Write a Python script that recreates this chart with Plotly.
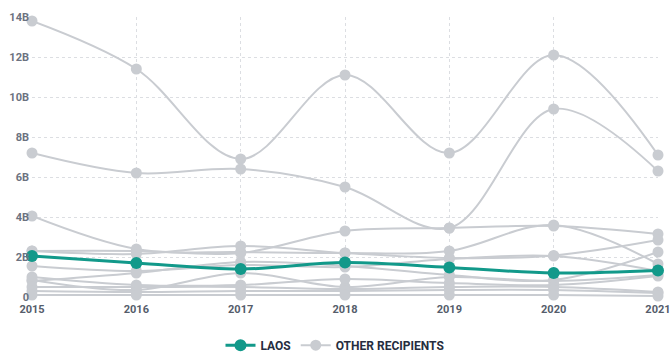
import plotly.graph_objects as go

years = [2015, 2016, 2017, 2018, 2019, 2020, 2021]

# Values in billions
laos = [2.05, 1.7, 1.4, 1.72, 1.48, 1.2, 1.32]

other_recipients = [
    [13.8, 11.4, 6.9, 11.1, 7.2, 12.1, 7.1],
    [7.2, 6.2, 6.4, 5.5, 3.45, 9.4, 6.3],
    [4.05, 2.4, 2.25, 2.2, 2.3, 3.6, 1.65],
    [2.3, 2.3, 2.2, 3.3, 3.45, 3.55, 3.15],
    [2.3, 2.15, 2.55, 2.2, 1.95, 2.08, 2.85],
    [1.55, 1.3, 1.6, 1.5, 1.9, 2.05, 1.3],
    [0.8, 1.2, 1.75, 1.55, 1.1, 0.85, 2.25],
    [0.85, 0.35, 1.2, 0.5, 1.0, 0.8, 1.1],
    [1.0, 0.6, 0.6, 0.9, 0.7, 0.6, 1.05],
    [0.5, 0.5, 0.5, 0.4, 0.5, 0.5, 0.25],
    [0.3, 0.25, 0.3, 0.3, 0.35, 0.35, 0.2],
    [0.1, 0.1, 0.1, 0.1, 0.1, 0.1, 0.05],
]

y_ticks = [0, 2, 4, 6, 8, 10, 12, 14]
y_tick_labels = ["0", "2B", "4B", "6B", "8B", "10B", "12B", "14B"]

GRAY = "#c9ccd1"
TEAL = "#12998a"
FONT = "Liberation Sans Narrow, Roboto, Arial"

fig = go.Figure()

for i, series in enumerate(other_recipients):
    fig.add_trace(go.Scatter(
        x=years, y=series,
        mode="lines+markers",
        name="OTHER RECIPIENTS",
        legendgroup="other",
        showlegend=(i == 0),
        legendrank=2,
        line=dict(color=GRAY, width=2, shape="spline"),
        marker=dict(color=GRAY, size=11),
        cliponaxis=False,
        hoverinfo="skip",
    ))

fig.add_trace(go.Scatter(
    x=years, y=laos,
    mode="lines+markers",
    name="LAOS",
    legendrank=1,
    line=dict(color=TEAL, width=3, shape="spline"),
    marker=dict(color=TEAL, size=12),
    cliponaxis=False,
))

fig.update_layout(
    width=670, height=353,
    margin=dict(l=32, r=12, t=17, b=56, autoexpand=False),
    paper_bgcolor="white",
    plot_bgcolor="white",
    font=dict(family=FONT, size=11, color="#5c6473"),
    legend=dict(
        orientation="h",
        x=0.5, xanchor="center", xref="container",
        y=0.022, yanchor="middle", yref="container",
        font=dict(family=FONT, size=12, color="#262d40", weight="bold"),
        itemwidth=30,
    ),
    xaxis=dict(
        range=[2014.9999, 2021.0001],
        tickvals=years,
        ticktext=[str(y) for y in years],
        ticklabeloverflow="allow",
        ticklabelstandoff=4,
        showgrid=True,
        gridcolor="#dcdee2",
        griddash="dot",
        gridwidth=1,
        zeroline=False,
        showline=False,
        ticks="",
        tickfont=dict(family=FONT, size=11, color="#555d6b", weight="bold"),
    ),
    yaxis=dict(
        range=[0, 14],
        tickvals=y_ticks,
        ticktext=y_tick_labels,
        showgrid=True,
        gridcolor="#dcdee2",
        griddash="dot",
        gridwidth=1,
        zeroline=False,
        showline=False,
        ticks="",
        ticklabelstandoff=2,
        tickfont=dict(family=FONT, size=11, color="#6b7280", weight="bold"),
    ),
)

fig.write_html("out.html")
